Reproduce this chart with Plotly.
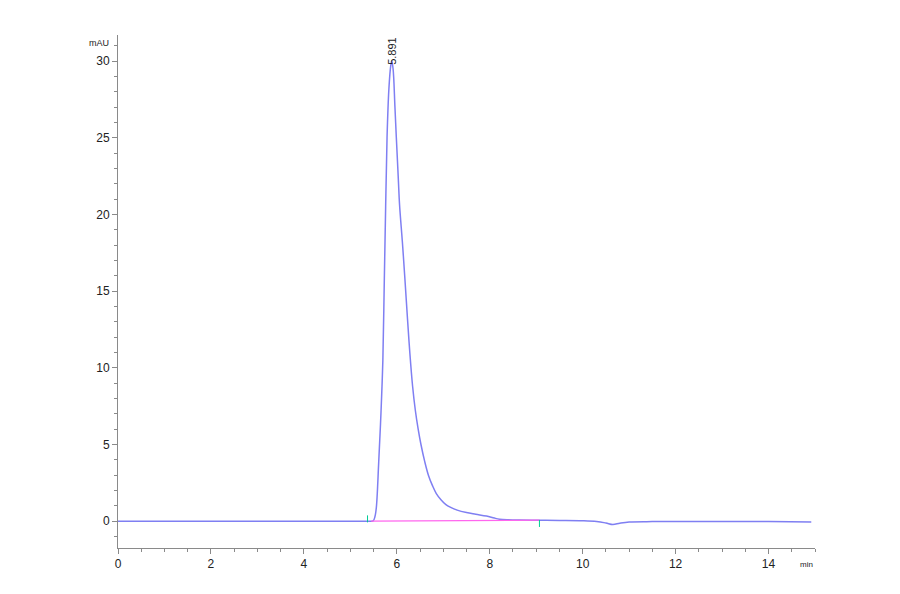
import plotly.graph_objects as go

# chromatogram trace (min, mAU)
time_min = [0.0, 2.0, 4.0, 5.0, 5.37, 5.49, 5.53, 5.56, 5.61, 5.66, 5.70, 5.73,
            5.76, 5.79, 5.83, 5.87, 5.891, 5.92, 5.96, 5.99, 6.03, 6.06, 6.12,
            6.17, 6.23, 6.28, 6.34, 6.40, 6.46, 6.52, 6.60, 6.68, 6.77, 6.85,
            6.95, 7.05, 7.16, 7.3, 7.5, 7.7, 7.93, 8.1, 8.21, 8.4, 8.64, 9.07, 9.5,
            10.0, 10.3, 10.5, 10.65, 10.8, 11.0, 11.5, 12.0, 13.0, 14.0, 14.92]
signal_mau = [0.0, 0.0, 0.0, 0.0, 0.0, 0.02, 0.3, 0.9, 3.8, 7.1, 10.5, 15.5,
              20.5, 25.0, 28.2, 29.7, 30.0, 29.5, 27.0, 25.0, 22.5, 20.6, 18.2,
              16.0, 13.2, 11.0, 8.8, 7.2, 6.0, 5.0, 3.9, 3.0, 2.3, 1.8,
              1.4, 1.1, 0.9, 0.72, 0.56, 0.45, 0.33, 0.2, 0.13, 0.09, 0.07, 0.06, 0.05,
              0.03, -0.02, -0.12, -0.22, -0.13, -0.05, -0.03, -0.02, -0.02, -0.03, -0.06]

# integration baseline and peak start/end marks
base_t = [5.45, 9.07]
base_v = [0.0, 0.07]
mark_t = [5.37, 9.07]
mark_v = [0.15, -0.15]

peak_rt = 5.891
peak_h = 30.0

x_ticks = [0, 2, 4, 6, 8, 10, 12, 14]
y_ticks = [0, 5, 10, 15, 20, 25, 30]

fig = go.Figure()
fig.add_trace(go.Scatter(x=time_min, y=signal_mau, mode="lines", line_shape="spline",
                         line=dict(color="#7f7ff2", width=1.5), showlegend=False))
fig.add_trace(go.Scatter(x=base_t, y=base_v, mode="lines",
                         line=dict(color="#ff66ee", width=1.2), showlegend=False))
fig.add_trace(go.Scatter(x=mark_t, y=mark_v, mode="markers",
                         marker=dict(symbol="line-ns-open", size=5,
                                     line=dict(color="#666666", width=1)),
                         showlegend=False))

fig.add_annotation(x=peak_rt, y=peak_h, text=f"{peak_rt:.3f}", textangle=-90,
                   showarrow=False, xanchor="center", yanchor="bottom", yshift=-6,
                   font=dict(size=11, color="#222222"))
fig.add_annotation(x=-0.01, xref="paper", xanchor="right", y=1.0, yref="paper",
                   yanchor="bottom", yshift=-15, text="mAU", showarrow=False,
                   font=dict(size=9, color="#222222"))
fig.add_annotation(x=1.0, xref="paper", xanchor="right", y=0, yref="paper",
                   yanchor="top", yshift=-10, text="min", showarrow=False,
                   font=dict(size=8, color="#222222"))

axis_style = dict(showline=True, linecolor="#8a8a8a", linewidth=1, ticks="outside",
                  ticklen=5, tickcolor="#8a8a8a", showgrid=False, zeroline=False,
                  tickfont=dict(family="Liberation Sans, Arial", size=12, color="#222222"))

fig.update_xaxes(range=[0, 15], tickvals=x_ticks,
                 minor=dict(dtick=0.5, ticks="outside", ticklen=3, tickcolor="#8a8a8a"),
                 **axis_style)
fig.update_yaxes(range=[-1.75, 31.7], tickvals=y_ticks,
                 minor=dict(dtick=1, ticks="outside", ticklen=3, tickcolor="#8a8a8a"),
                 **axis_style)

fig.update_layout(width=900, height=594, plot_bgcolor="white", paper_bgcolor="white",
                  margin=dict(l=110, r=93, t=27, b=54),
                  font=dict(family="Liberation Sans, Arial"))

fig.write_html("out.html")
